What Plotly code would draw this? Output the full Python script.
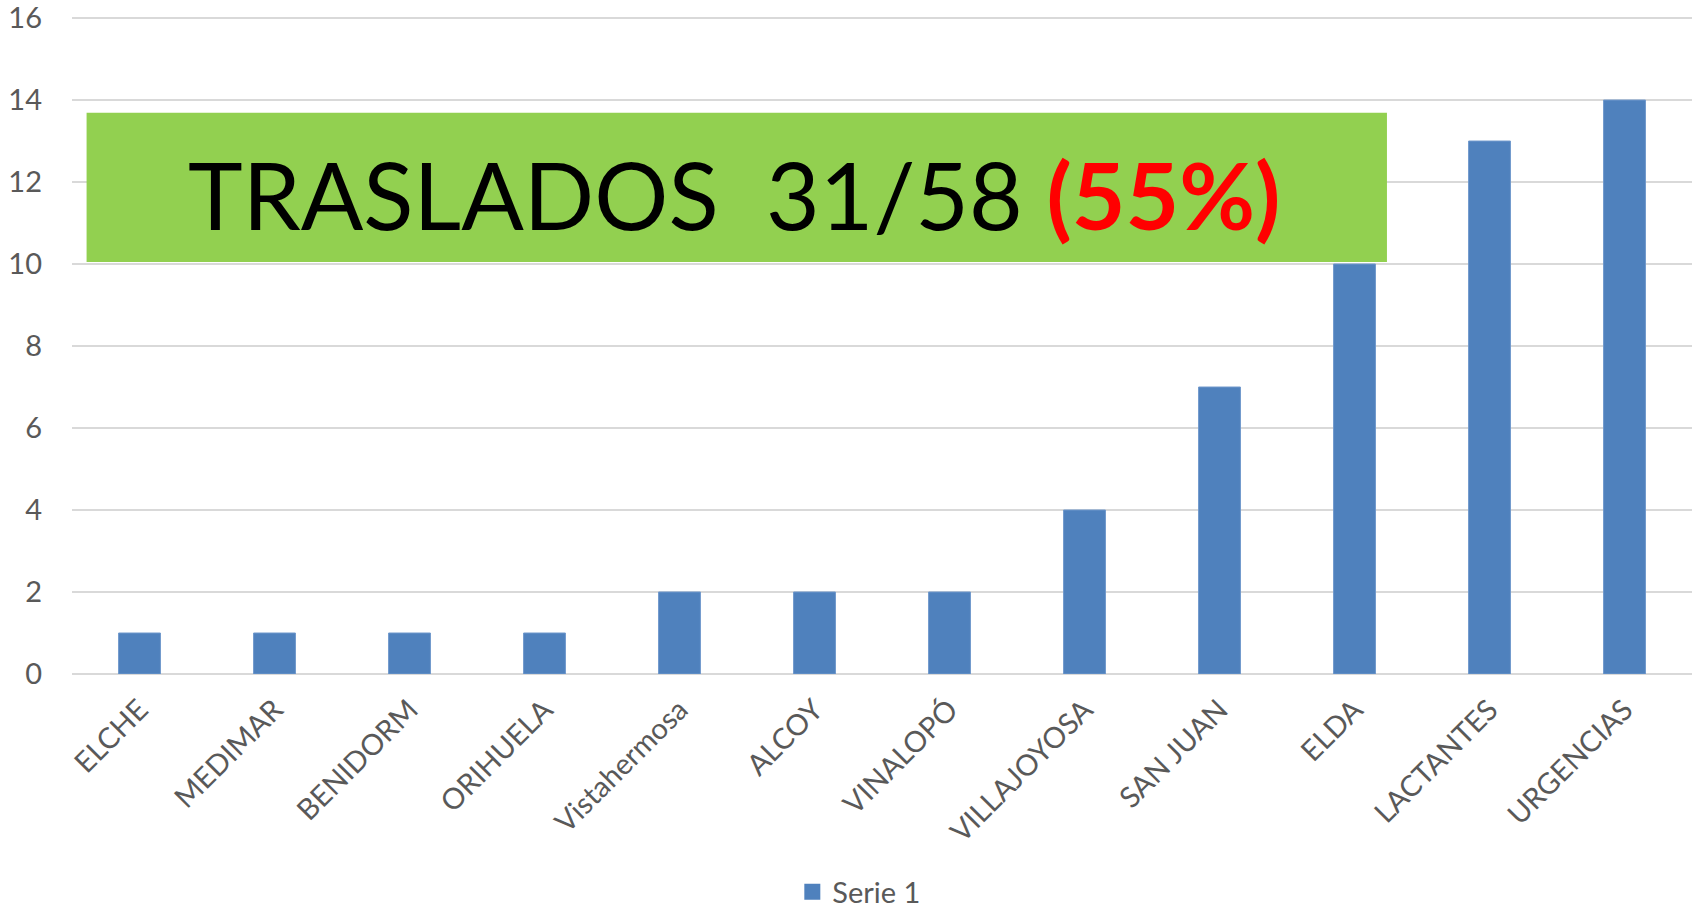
import plotly.graph_objects as go

categorias = ["ELCHE", "MEDIMAR", "BENIDORM", "ORIHUELA", "Vistahermosa", "ALCOY",
              "VINALOPÓ", "VILLAJOYOSA", "SAN JUAN", "ELDA", "LACTANTES", "URGENCIAS"]
valores = [1, 1, 1, 1, 2, 2, 2, 4, 7, 10, 13, 14]
serie = "Serie 1"
y_ticks = [0, 2, 4, 6, 8, 10, 12, 14, 16]

FUENTE = "Lato"
GRIS = "#595959"
AZUL = "#4F81BD"

fig = go.Figure()
fig.add_trace(go.Bar(
    x=categorias,
    y=valores,
    name=serie,
    showlegend=False,
    marker=dict(color=AZUL, line=dict(color="#6F98CC", width=1)),
))
# Entrada de leyenda con cuadrado más grande
fig.add_trace(go.Scatter(
    x=[None], y=[None], mode="markers", name=serie,
    marker=dict(symbol="square", size=23, color=AZUL),
))

# Recuadro verde con el texto
fig.add_shape(type="rect", xref="paper", yref="y",
              x0=0.009, x1=0.8117, y0=10.05, y1=13.69,
              fillcolor="#92D050", line=dict(width=0), layer="above")
fig.add_annotation(
    xref="paper", yref="y", x=0.409, y=11.69,
    text="TRASLADOS  31/58 <b><span style='color:#FF0000'>(55%)</span></b>",
    showarrow=False, font=dict(family=FUENTE, size=92.6, color="black"),
    xanchor="center", yanchor="middle",
)

fig.update_layout(
    width=1696, height=910,
    margin=dict(l=72, r=4, t=16, b=236, autoexpand=False),
    paper_bgcolor="white", plot_bgcolor="white",
    font=dict(family=FUENTE, size=29, color=GRIS),
    bargap=0.69,
    showlegend=True,
    legend=dict(orientation="h", x=0.486, xanchor="center",
                yref="container", y=0.02, yanchor="middle",
                font=dict(size=29, color=GRIS), itemwidth=30),
)
fig.update_xaxes(tickangle=-45, showgrid=False, showline=False, ticks="", automargin=False,
                 ticklabelstandoff=12, tickfont=dict(size=29, color=GRIS))
fig.update_yaxes(range=[0, 16.05], tickvals=y_ticks, showgrid=True, gridcolor="#D9D9D9",
                 gridwidth=1.5, zeroline=True, zerolinecolor="#D9D9D9", zerolinewidth=1.5,
                 ticks="", ticklabelstandoff=29, automargin=False, ticklabeloverflow="allow",
                 tickfont=dict(size=29, color=GRIS))

# sin margen en el body para que la figura ocupe toda la ventana
fig.write_html("out.html", config={"displayModeBar": False},
               post_script="document.body.style.margin='0';")
